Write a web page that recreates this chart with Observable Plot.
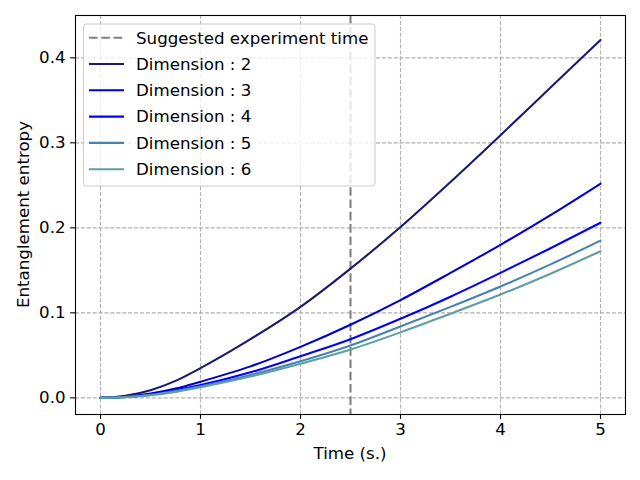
<!DOCTYPE html>
<html>
<head>
<meta charset="utf-8">
<script src="https://cdn.jsdelivr.net/npm/d3@7"></script>
<script src="https://cdn.jsdelivr.net/npm/@observablehq/plot@0.6"></script>
<style>
  html, body { margin: 0; padding: 0; background: white; }
  #chart { width: 640px; height: 480px; }
</style>
</head>
<body>
<div id="chart"></div>
<script>
const times = [0, 0.25, 0.5, 0.75, 1, 1.5, 2, 2.5, 3, 3.5, 4, 4.5, 5];
const dim2 = [0, 0.0025, 0.009, 0.020, 0.035, 0.069, 0.107, 0.152, 0.201, 0.254, 0.309, 0.365, 0.421];
const dim3 = [0, 0.0013, 0.005, 0.011, 0.019, 0.037, 0.060, 0.086, 0.115, 0.147, 0.180, 0.215, 0.252];
const dim4 = [0, 0.001, 0.004, 0.009, 0.015, 0.030, 0.049, 0.069, 0.093, 0.119, 0.147, 0.176, 0.206];
const dim5 = [0, 0.0009, 0.0035, 0.008, 0.0135, 0.027, 0.043, 0.0615, 0.084, 0.107, 0.131, 0.157, 0.185];
const dim6 = [0, 0.0008, 0.003, 0.007, 0.0125, 0.025, 0.040, 0.0568, 0.077, 0.099, 0.1215, 0.146, 0.1725];
const seriesNames = ["Dimension : 2", "Dimension : 3", "Dimension : 4", "Dimension : 5", "Dimension : 6"];
const seriesValues = [dim2, dim3, dim4, dim5, dim6];
const seriesColors = ["#191970", "#0000cd", "#0000ff", "#4682b4", "#5f9ea0"];
const experimentTime = 2.5;
const experimentLabel = "Suggested experiment time";
const xTicks = [0, 1, 2, 3, 4, 5];
const yTicks = [0.0, 0.1, 0.2, 0.3, 0.4];
const xLabel = "Time (s.)";
const yLabel = "Entanglement entropy";

const rows = [];
seriesNames.forEach((name, i) => {
  times.forEach((t, j) => rows.push({series: name, t, v: seriesValues[i][j]}));
});

const font = "DejaVu Sans, sans-serif";
const fs = 16.67;
const gridStyle = {stroke: "#b0b0b0", strokeOpacity: 1, strokeWidth: 1.1, strokeDasharray: "4.1,1.8"};
const dashPattern = "8.6,3.7";

const lineMarks = seriesNames.map((name, i) =>
  Plot.line(rows.filter(r => r.series === name), {
    x: "t", y: "v", stroke: seriesColors[i], strokeWidth: 2.08, curve: "monotone-x"
  })
);

const plot = Plot.plot({
  width: 640,
  height: 480,
  marginTop: 15,
  marginBottom: 66,
  marginLeft: 75,
  marginRight: 15,
  style: {fontFamily: font, fontSize: fs + "px", background: "white", color: "black"},
  x: {domain: [-0.25, 5.25], ticks: xTicks},
  y: {domain: [-0.0196, 0.4498], ticks: yTicks},
  marks: [
    Plot.gridX(xTicks, gridStyle),
    Plot.gridY(yTicks, gridStyle),
    Plot.ruleX([experimentTime], {stroke: "#808080", strokeWidth: 2.08, strokeDasharray: dashPattern}),
    ...lineMarks,
    Plot.axisX(xTicks, {tickSize: 4.9, tickPadding: 4, fontSize: fs, label: null, strokeWidth: 1.1, tickFormat: d3.format("d")}),
    Plot.axisY(yTicks, {tickSize: 4.9, tickPadding: 5, fontSize: fs, label: null, strokeWidth: 1.1, tickFormat: d3.format(".1f")}),
    Plot.frame({stroke: "black", strokeWidth: 1.1})
  ]
});

document.getElementById("chart").appendChild(plot);

const svg = d3.select(plot);
// axis labels
svg.append("text")
  .attr("x", 350).attr("y", 459)
  .attr("text-anchor", "middle")
  .attr("font-family", font).attr("font-size", fs).attr("fill", "black")
  .text(xLabel);
svg.append("text")
  .attr("transform", "translate(29,214.5) rotate(-90)")
  .attr("text-anchor", "middle")
  .attr("font-family", font).attr("font-size", fs).attr("fill", "black")
  .text(yLabel);

// legend
const lg = svg.append("g");
lg.append("rect")
  .attr("x", 83.5).attr("y", 24).attr("width", 291.5).attr("height", 162)
  .attr("rx", 3).attr("fill", "white").attr("fill-opacity", 0.8)
  .attr("stroke", "#cccccc").attr("stroke-width", 1);
const entries = [{label: experimentLabel, color: "#808080", dash: dashPattern}]
  .concat(seriesNames.map((n, i) => ({label: n, color: seriesColors[i], dash: null})));
entries.forEach((e, i) => {
  const cy = 37.7 + i * 26.3;
  const l = lg.append("line")
    .attr("x1", 89).attr("x2", 124).attr("y1", cy).attr("y2", cy)
    .attr("stroke", e.color).attr("stroke-width", 2.08);
  if (e.dash) l.attr("stroke-dasharray", e.dash);
  lg.append("text")
    .attr("x", 136).attr("y", cy).attr("dy", "0.35em")
    .attr("text-anchor", "start")
    .attr("font-family", font).attr("font-size", fs).attr("fill", "black")
    .text(e.label);
});
</script>
</body>
</html>
